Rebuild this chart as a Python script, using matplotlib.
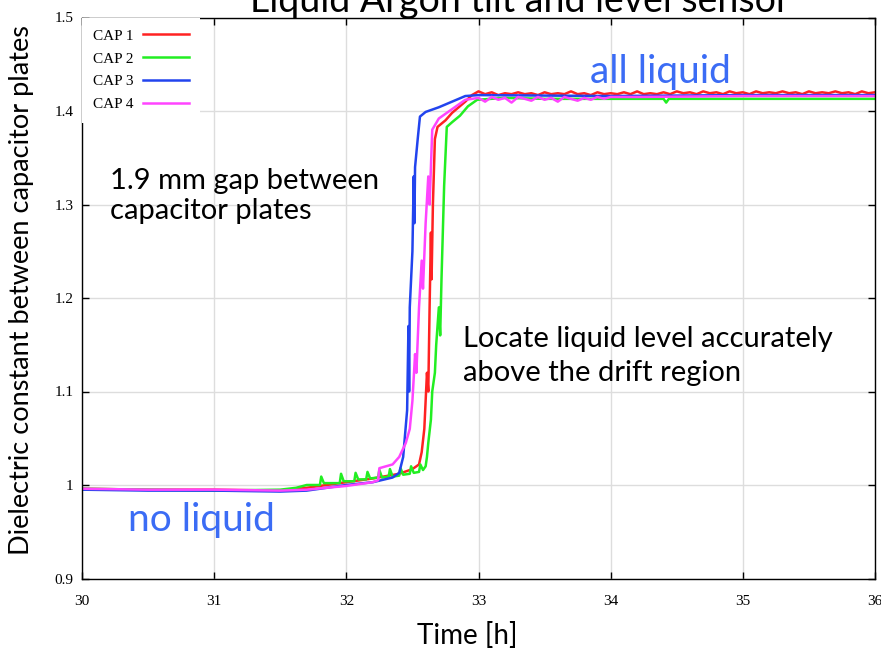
#! liquid_argon_level.py
# capacitive level sensor, four plates, filling with liquid argon

from matplotlib import pyplot as plt
import numpy as np

plt.rcParams['font.family'] = ['Lato', 'DejaVu Sans']

# --- data (time in hours, dielectric constant) ---
cap1_t = [30.0, 30.5, 31.0, 31.5, 31.7, 32.0, 32.2, 32.4, 32.5, 32.55, 32.57, 32.59,
          32.61, 32.62, 32.63, 32.64, 32.645, 32.655, 32.67, 32.69, 32.75, 32.8, 32.9, 32.95]
cap1_v = [0.996, 0.995, 0.995, 0.994, 0.997, 1.003, 1.007, 1.012, 1.017, 1.022, 1.035, 1.06,
          1.12, 1.10, 1.19, 1.27, 1.22, 1.30, 1.37, 1.383, 1.39, 1.398, 1.41, 1.417]
# flat (all liquid) part of CAP 1, 33h -> 36h
cap1_flat = [1.421, 1.418, 1.420, 1.417, 1.419, 1.418, 1.420, 1.418, 1.419, 1.417,
             1.420, 1.418, 1.419, 1.418, 1.421, 1.418, 1.419, 1.417, 1.420, 1.418,
             1.419, 1.418, 1.420, 1.418, 1.421, 1.418, 1.419, 1.418, 1.420, 1.418,
             1.421, 1.419, 1.420, 1.418, 1.421, 1.419, 1.420, 1.418, 1.421, 1.419,
             1.420, 1.418, 1.421, 1.419, 1.420, 1.419, 1.421, 1.419, 1.420, 1.418,
             1.421, 1.419, 1.420, 1.419, 1.421, 1.419, 1.420, 1.418, 1.421, 1.419, 1.420]

cap2_t = [30.0, 31.0, 31.5, 31.62, 31.7, 31.8, 31.81, 31.83, 31.95, 31.96, 31.98, 32.06,
          32.07, 32.09, 32.15, 32.16, 32.18, 32.24, 32.25, 32.27, 32.32, 32.33, 32.35,
          32.40, 32.41, 32.43, 32.48, 32.49, 32.51, 32.55, 32.56, 32.58, 32.6, 32.61,
          32.62, 32.64, 32.65, 32.67, 32.68, 32.7, 32.71, 32.72, 32.74, 32.76, 32.8,
          32.86, 32.92, 32.99, 33.2, 33.5, 34.0, 34.4, 34.42, 34.44, 35.0, 36.0]
cap2_v = [0.996, 0.994, 0.995, 0.997, 1.000, 1.000, 1.009, 1.002, 1.002, 1.012, 1.004, 1.004,
          1.013, 1.006, 1.006, 1.014, 1.007, 1.008, 1.016, 1.008, 1.009, 1.017, 1.009,
          1.010, 1.018, 1.011, 1.012, 1.020, 1.013, 1.014, 1.022, 1.016, 1.020, 1.030,
          1.045, 1.07, 1.10, 1.12, 1.15, 1.19, 1.16, 1.22, 1.32, 1.383, 1.388,
          1.395, 1.405, 1.412, 1.414, 1.413, 1.413, 1.413, 1.409, 1.413, 1.413, 1.413]

cap3_t = [30.0, 30.5, 31.0, 31.5, 31.7, 32.0, 32.2, 32.35, 32.4, 32.43, 32.46, 32.47,
          32.475, 32.48, 32.50, 32.51, 32.515, 32.52, 32.54, 32.557, 32.6, 32.7, 32.8,
          32.9, 33.0, 34.0, 35.0, 36.0]
cap3_v = [0.995, 0.994, 0.994, 0.993, 0.994, 1.000, 1.003, 1.008, 1.013, 1.03, 1.08, 1.17,
          1.10, 1.19, 1.25, 1.33, 1.28, 1.34, 1.37, 1.394, 1.399, 1.404, 1.410,
          1.416, 1.417, 1.416, 1.417, 1.417]

cap4_t = [30.0, 30.5, 31.0, 31.5, 31.7, 32.0, 32.2, 32.24, 32.25, 32.35, 32.4, 32.45,
          32.48, 32.5, 32.52, 32.53, 32.55, 32.57, 32.58, 32.6, 32.62, 32.63, 32.65,
          32.7, 32.8, 32.9]
cap4_v = [0.996, 0.995, 0.995, 0.994, 0.995, 0.999, 1.003, 1.005, 1.018, 1.022, 1.03, 1.045,
          1.06, 1.09, 1.14, 1.12, 1.19, 1.24, 1.21, 1.28, 1.33, 1.30, 1.38,
          1.392, 1.402, 1.412]
# noisy stretch 33h -> 34h, then quiet
cap4_flat = [1.414, 1.410, 1.415, 1.412, 1.414, 1.409, 1.415, 1.413, 1.411, 1.415, 1.412,
             1.414, 1.410, 1.415, 1.413, 1.411, 1.414, 1.412, 1.415, 1.413, 1.415]
cap4_end_t = [34.2, 35.0, 36.0]
cap4_end_v = [1.415, 1.416, 1.416]

labels = ['CAP 1', 'CAP 2', 'CAP 3', 'CAP 4']
colors = ['#ff2222', '#22ee22', '#2244ee', '#ff44ff']

# stitch the flat parts on
t1 = np.concatenate([cap1_t, np.linspace(33.0, 36.0, len(cap1_flat))])
v1 = np.concatenate([cap1_v, cap1_flat])
t4 = np.concatenate([cap4_t, np.linspace(33.0, 34.0, len(cap4_flat)), cap4_end_t])
v4 = np.concatenate([cap4_v, cap4_flat, cap4_end_v])

series = [(t1, v1), (cap2_t, cap2_v), (cap3_t, cap3_v), (t4, v4)]

fig = plt.figure(figsize=(8.81, 6.54), dpi=100)
ax = fig.add_axes([82/881, 1 - 578.5/654, 793/881, 561/654])

for (t, v), lab, c in zip(series, labels, colors):
    ax.plot(t, v, color=c, lw=1.8, label=lab)

ax.set_xlim(30, 36)
ax.set_ylim(0.9, 1.5)
ax.set_xticks([30, 31, 32, 33, 34, 35, 36])
ax.set_yticks([0.9, 1.0, 1.1, 1.2, 1.3, 1.4, 1.5])
ax.set_yticklabels(['0.9', '1', '1.1', '1.2', '1.3', '1.4', '1.5'])
ax.grid(True, color='#dddddd', lw=1)
ax.set_axisbelow(True)
ax.tick_params(direction='in', top=True, right=True, length=5, width=1)
ax.tick_params(axis='x', pad=12)
ax.tick_params(axis='y', pad=6)
for lab in ax.get_xticklabels() + ax.get_yticklabels():
    lab.set_family(['Liberation Serif'])
    lab.set_fontsize(11)
for s in ax.spines.values():
    s.set_linewidth(1)

# legend: white box, no border, text first then line
leg = ax.legend(loc='upper left', borderaxespad=0, markerfirst=False, fancybox=False,
                handlelength=3.0, handletextpad=0.6, labelspacing=0.6, borderpad=0.75,
                prop={'family': 'Liberation Serif', 'size': 11})
leg.get_frame().set_edgecolor('none')
leg.get_frame().set_alpha(1)

# titles and labels
fig.text(520/881, 1 - 12/654, 'Liquid Argon tilt and level sensor', fontsize=27,
         ha='center', va='baseline')
fig.text(22/881, 1 - 290/654, 'Dielectric constant between capacitor plates',
         fontsize=19.5, rotation=90, ha='center', va='center')
fig.text(467/881, 1 - 635/654, 'Time [h]', fontsize=20, ha='center', va='center')

# annotations
fig.text(110/881, 1 - 196/654, '1.9 mm gap between\ncapacitor plates', fontsize=21,
         ha='left', va='center', linespacing=1.2)
fig.text(463/881, 1 - 356/654, 'Locate liquid level accurately\nabove the drift region',
         fontsize=21, ha='left', va='center', linespacing=1.35)
fig.text(660/881, 1 - 72/654, 'all liquid', fontsize=28, color='#3b6cf5',
         ha='center', va='center')
fig.text(201/881, 1 - 520/654, 'no liquid', fontsize=28, color='#3b6cf5',
         ha='center', va='center')

plt.savefig('out.png', dpi=100)
